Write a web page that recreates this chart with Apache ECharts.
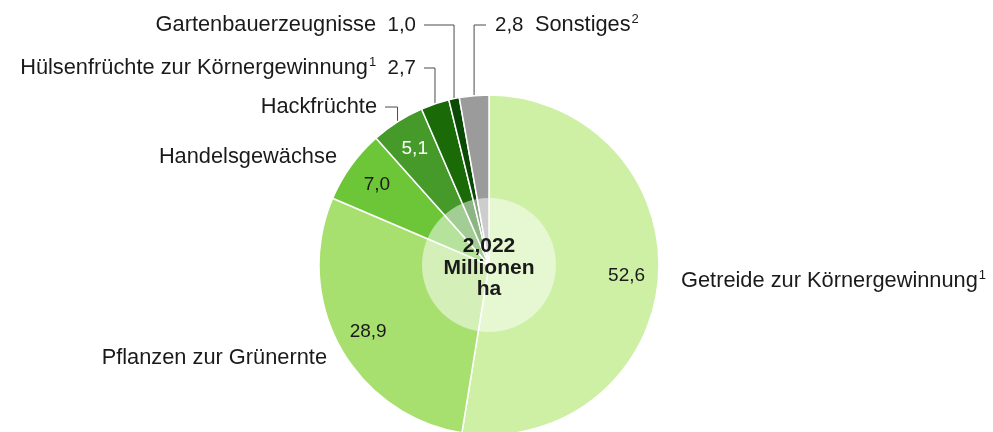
<!DOCTYPE html>
<html><head><meta charset="utf-8">
<script src="https://cdn.jsdelivr.net/npm/echarts@6/dist/echarts.min.js"></script>
<style>html,body{margin:0;padding:0;background:#fff}#c{width:993px;height:432px}</style>
</head><body><div id="c"></div>
<script>
const categories = ['Getreide zur Körnergewinnung', 'Pflanzen zur Grünernte', 'Handelsgewächse', 'Hackfrüchte', 'Hülsenfrüchte zur Körnergewinnung', 'Gartenbauerzeugnisse', 'Sonstiges'];
const values = [52.6, 28.9, 7.0, 5.1, 2.7, 1.0, 2.8];
const footnotes = ['1', '', '', '', '1', '', '2'];
const colors = ['#cdf0a5', '#a8e070', '#6cc637', '#459a2a', '#1a6b08', '#0b4a05', '#9b9b9b'];
const insideLabelColors = ['#1a1a1a', '#1a1a1a', '#1a1a1a', '#ffffff'];
const totalText = ['2,022', 'Millionen', 'ha'];

const fmt = v => v.toFixed(1).replace('.', ',');
const CX = 489, CY = 265, R = 170;
const FONT = '"Liberation Sans", Arial, sans-serif';

// outer label placement: [x, y, align, lineEndX] (lineEndX null => no guide line)
const outerPos = [
  [681, 281, 'left', null],
  [327, 358, 'right', null],
  [337, 157, 'right', null],
  [377, 107, 'right', 385],
  [416, 68, 'right', 424],
  [416, 25, 'right', 424],
  [495, 25, 'left', 486]
];

function outerText(i) {
  const name = categories[i];
  const sup = footnotes[i] ? '{s|' + footnotes[i] + '}' : '';
  if (i <= 3) return '{a|' + name + '}' + sup;
  if (i === 6) return '{v|' + fmt(values[i]) + '  }{a|' + name + '}' + sup;
  return '{a|' + name + '}' + sup + '{v|  ' + fmt(values[i]) + '}';
}

const mainData = categories.map((c, i) => ({
  name: c, value: values[i],
  itemStyle: { color: colors[i] },
  label: { formatter: outerText(i) },
  labelLine: { show: outerPos[i][3] !== null }
}));

const ringData = categories.map((c, i) => ({
  name: c, value: values[i],
  label: { show: i <= 3, color: insideLabelColors[i] || '#1a1a1a' }
}));

const chart = echarts.init(document.getElementById('c'), null, { renderer: 'canvas' });
chart.setOption({
  animation: false,
  backgroundColor: '#fff',
  series: [
    {
      type: 'pie', center: [CX, CY], radius: [0, R], startAngle: 90, clockwise: true,
      silent: true, avoidLabelOverlap: false,
      itemStyle: { borderColor: '#fff', borderWidth: 1.5 },
      label: {
        show: true, position: 'outside', fontFamily: FONT, color: '#1a1a1a',
        rich: {
          a: { fontSize: 21.8, fontFamily: FONT, color: '#1a1a1a' },
          v: { fontSize: 20.5, fontFamily: FONT, color: '#1a1a1a' },
          s: { fontSize: 13, fontFamily: FONT, color: '#1a1a1a', padding: [0, 0, 11, 1] }
        }
      },
      labelLine: { show: true, lineStyle: { color: '#4a4a4a', width: 1 }, length: 10, length2: 10 },
      labelLayout: function (p) {
        const i = p.dataIndex;
        const pos = outerPos[i];
        const res = { x: pos[0], y: pos[1], align: pos[2], verticalAlign: 'middle' };
        if (pos[3] !== null) {
          const total = values.reduce((a, b) => a + b, 0);
          let cum = 0;
          for (let k = 0; k < i; k++) cum += values[k];
          const mid = (cum + values[i] / 2) / total * Math.PI * 2;
          const x0 = CX + R * Math.sin(mid), y0 = CY - R * Math.cos(mid);
          res.labelLinePoints = [[x0, y0], [x0, pos[1]], [pos[3], pos[1]]];
        }
        return res;
      },
      data: mainData
    },
    {
      type: 'pie', center: [CX, CY], radius: [100, R], startAngle: 90, clockwise: true,
      silent: true, avoidLabelOverlap: false,
      itemStyle: { color: 'rgba(0,0,0,0)' },
      label: {
        position: 'inside', fontFamily: FONT, fontSize: 19,
        formatter: p => fmt(p.value)
      },
      labelLine: { show: false },
      data: ringData
    },
    {
      type: 'pie', center: [CX, CY], radius: [0, 67], silent: true,
      itemStyle: { color: 'rgba(255,255,255,0.5)' },
      label: {
        show: true, position: 'center', fontFamily: FONT, fontSize: 21, fontWeight: 'bold',
        color: '#1a1a1a', lineHeight: 21.5, offset: [0, 3], formatter: totalText.join('\n')
      },
      labelLine: { show: false },
      data: [{ value: 1, name: 'total' }]
    }
  ]
});
</script></body></html>
